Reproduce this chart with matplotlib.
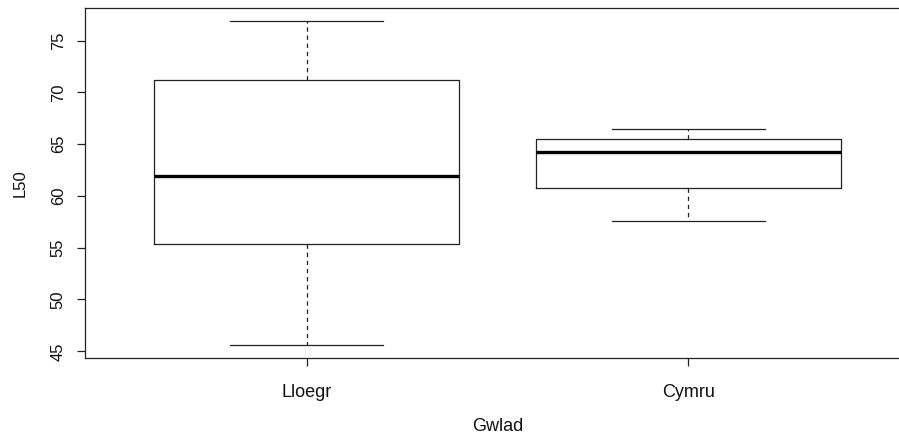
import matplotlib
matplotlib.use('Agg')
import matplotlib.pyplot as plt

# Five-number summaries
groups = ['Lloegr', 'Cymru']
whisker_low = [45.6, 57.6]
q1 = [55.4, 60.75]
median = [61.9, 64.2]
q3 = [71.2, 65.5]
whisker_high = [76.9, 66.45]
yticks = [45, 50, 55, 60, 65, 70, 75]

plt.rcParams['font.family'] = ['Liberation Sans', 'DejaVu Sans']
plt.rcParams['font.size'] = 12

stats = []
for i, g in enumerate(groups):
    stats.append({'label': g, 'whislo': whisker_low[i], 'q1': q1[i], 'med': median[i],
                  'q3': q3[i], 'whishi': whisker_high[i], 'fliers': []})

fig = plt.figure(figsize=(8.99, 4.34), dpi=100)
ax = fig.add_axes([0.0949, 0.1751, 0.9169, 0.8065])

line_col = '#222222'
ax.bxp(stats, positions=[1, 2], widths=0.8, capwidths=0.4, showfliers=False,
       boxprops=dict(color=line_col, linewidth=0.9),
       whiskerprops=dict(color=line_col, linewidth=0.9, linestyle=(0, (3.5, 3))),
       capprops=dict(color=line_col, linewidth=0.9),
       medianprops=dict(color='black', linewidth=2.4, solid_capstyle='butt'))

ax.set_xlim(0.42, 2.58)
ax.set_ylim(44.35, 78.15)
ax.set_yticks(yticks)
ax.set_yticklabels([str(t) for t in yticks], rotation=90, va='center')
ax.set_xticks([1, 2])
ax.set_xticklabels(groups, fontsize=13)
ax.tick_params(axis='both', length=6, width=0.9, color=line_col, labelcolor='#111111')
ax.tick_params(axis='y', pad=8)
ax.tick_params(axis='x', pad=13)
for s in ax.spines.values():
    s.set_linewidth(0.9)
    s.set_color(line_col)

ax.set_xlabel('Gwlad', labelpad=12, color='#111111', fontsize=13)
ax.set_ylabel('L50', labelpad=17, color='#111111')

fig.savefig('out.png', dpi=100)
